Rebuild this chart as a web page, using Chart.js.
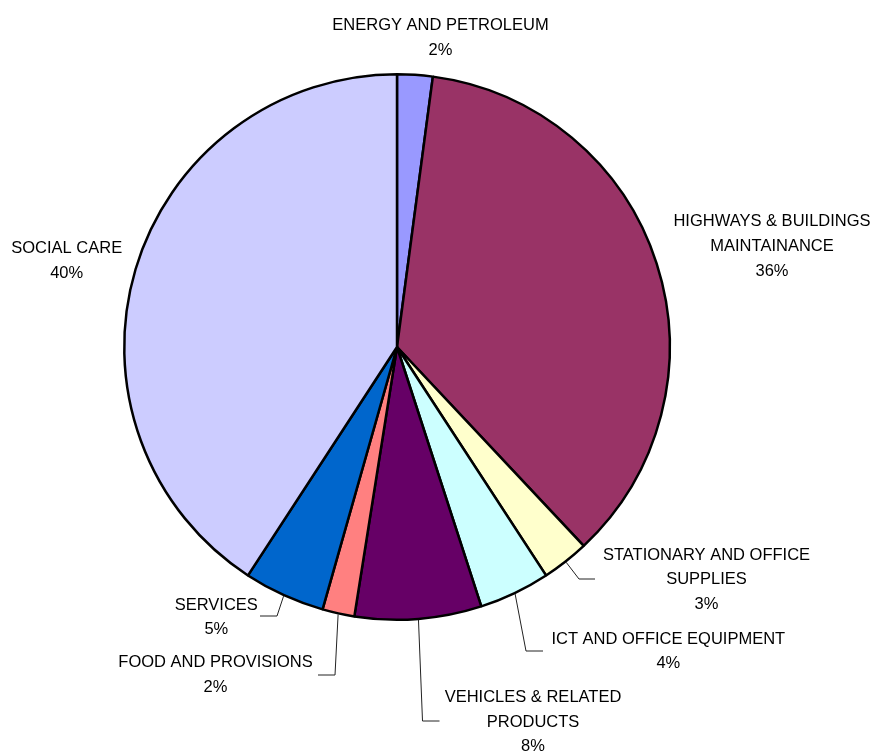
<!DOCTYPE html>
<html>
<head>
<meta charset="utf-8">
<script src="https://cdn.jsdelivr.net/npm/chart.js@4"></script>
<style>
  html, body { margin: 0; padding: 0; background: #fff; }
  #spend { display: block; }
</style>
</head>
<body>
<canvas id="spend" width="881" height="754"></canvas>
<script>
'use strict';

// categories, clockwise from 12 o'clock
let categories = [
  ["ENERGY AND PETROLEUM"],
  ["HIGHWAYS & BUILDINGS", "MAINTAINANCE"],
  ["STATIONARY AND OFFICE", "SUPPLIES"],
  ["ICT AND OFFICE EQUIPMENT"],
  ["VEHICLES & RELATED", "PRODUCTS"],
  ["FOOD AND PROVISIONS"],
  ["SERVICES"],
  ["SOCIAL CARE"]
];
// share of spend, % (as drawn)
let shares = [2.1, 35.9, 2.8, 4.2, 7.5, 1.9, 4.8, 40.8];
// percentages as printed on the chart
let printed = ["2%", "36%", "3%", "4%", "8%", "2%", "5%", "40%"];
let colours = ["#9999FF", "#993366", "#FFFFCC", "#CCFFFF", "#660066", "#FF8080", "#0066CC", "#CCCCFF"];

// label placement, relative to pie centre (first line centre)
let labelAt = [[43.5, -321.5], [375, -125.3], [309.5, 208], [271.3, 292], [136, 350.3], [-181.5, 315.7], [-180.7, 258], [-330.3, -98.3]];
// leader lines: elbow and end, relative to pie centre (null = none)
let leaders = [null, null, [[182, 232], [198, 232]], [[129, 304], [146, 304]], [[25.5, 374], [42.5, 374]], [[-62, 328], [-79, 328]], [[-120, 269], [-137, 269]], null];

let lineHeight = 24.7;

let sliceLabels = {
  id: 'sliceLabels',
  afterDraw(chart) {
    let ctx = chart.ctx;
    let meta = chart.getDatasetMeta(0);
    ctx.save();
    meta.data.forEach((arc, i) => {
      let cx = arc.x, cy = arc.y;
      let lead = leaders[i];
      if (lead) {
        let mid = (arc.startAngle + arc.endAngle) / 2;
        let r = arc.outerRadius + 1;
        ctx.beginPath();
        ctx.strokeStyle = '#222';
        ctx.lineWidth = 1;
        ctx.moveTo(cx + Math.cos(mid) * r, cy + Math.sin(mid) * r);
        ctx.lineTo(cx + lead[0][0], cy + lead[0][1]);
        ctx.lineTo(cx + lead[1][0], cy + lead[1][1]);
        ctx.stroke();
      }
      let lines = categories[i].concat([printed[i]]);
      ctx.fillStyle = '#000';
      ctx.font = '16.5px "Liberation Sans", Arial, sans-serif';
      ctx.textAlign = 'center';
      ctx.textBaseline = 'middle';
      lines.forEach((t, k) => {
        ctx.fillText(t, cx + labelAt[i][0], cy + labelAt[i][1] + k * lineHeight);
      });
    });
    ctx.restore();
  }
};

let pie = new Chart(document.getElementById("spend"), {
  type: 'pie',
  data: {
    labels: categories.map(c => c.join(' ')),
    datasets: [{
      data: shares,
      backgroundColor: colours,
      borderColor: '#000',
      borderWidth: 2.5
    }]
  },
  options: {
    responsive: false,
    animation: false,
    layout: {
      padding: { left: 123, right: 210, top: 73, bottom: 133 }
    },
    plugins: {
      legend: { display: false },
      tooltip: { enabled: false }
    }
  },
  plugins: [sliceLabels]
});
</script>
</body>
</html>
